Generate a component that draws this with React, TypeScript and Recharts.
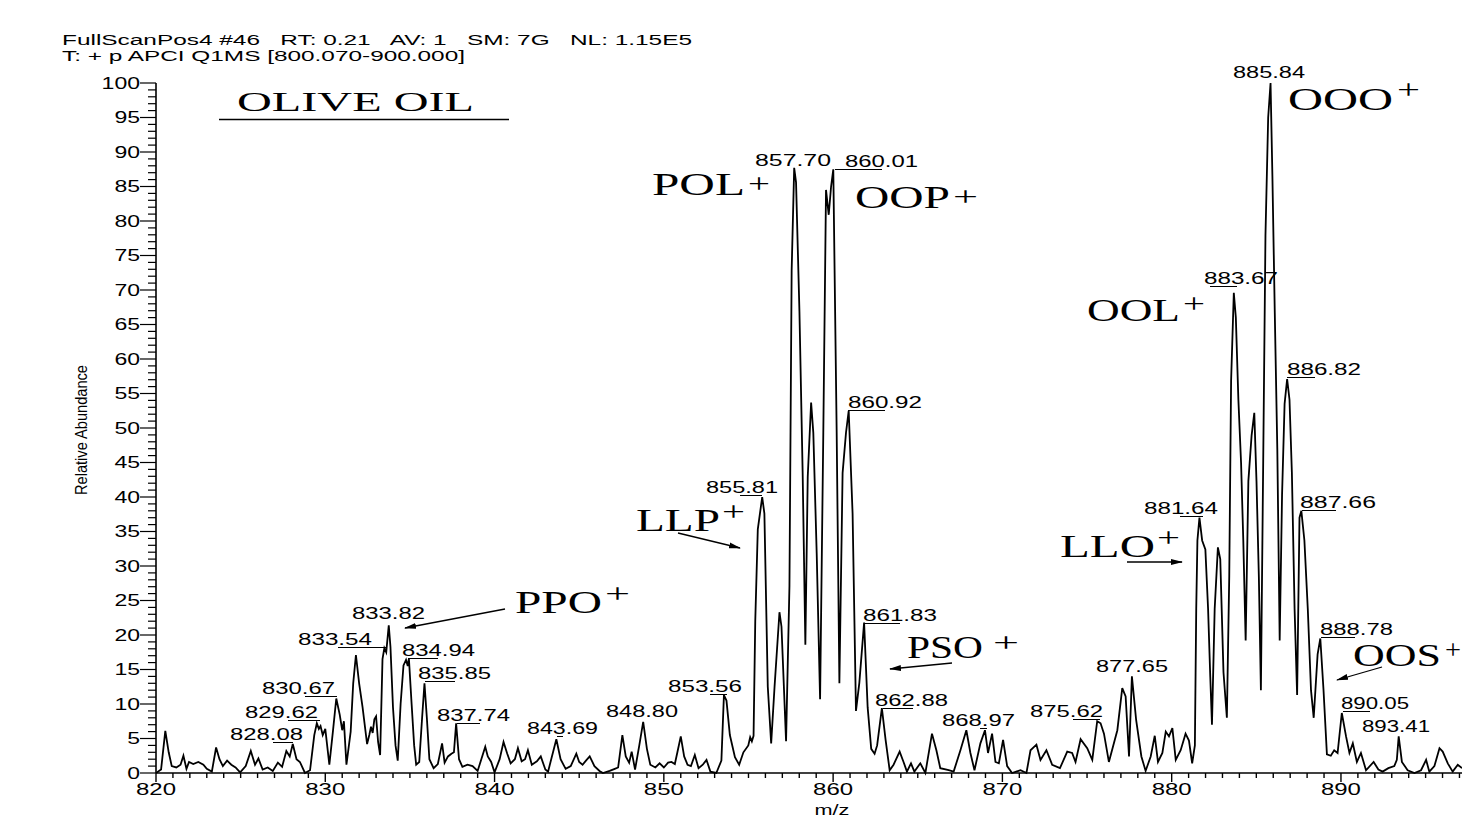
import { LineChart, Line, XAxis, YAxis } from 'recharts';

const W = 1462;
const H = 818;
const SANS = '"Liberation Sans", Arial, sans-serif';
const SERIF = '"Liberation Serif", "Times New Roman", serif';

// m/z positions
const massToCharge = [
  820.0, 820.3, 820.55, 820.75, 820.93, 821.2, 821.45, 821.62, 821.8, 821.95,
  822.2, 822.5, 822.8, 823.0, 823.3, 823.55, 823.75, 823.95, 824.2, 824.45,
  824.7, 824.97, 825.3, 825.6, 825.85, 826.05, 826.3, 826.6, 826.9, 827.2,
  827.45, 827.7, 827.9, 828.08, 828.3, 828.5, 828.8, 829.1, 829.35, 829.5,
  829.62, 829.72, 829.85, 830.0, 830.24, 830.45, 830.65, 830.85, 831.0, 831.1,
  831.25, 831.5, 831.65, 831.81, 832.0, 832.2, 832.47, 832.6, 832.7, 832.8,
  832.9, 833.0, 833.12, 833.24, 833.38, 833.49, 833.6, 833.75, 833.85, 834.0,
  834.15, 834.28, 834.45, 834.62, 834.77, 834.87, 834.94, 835.1, 835.25, 835.37,
  835.55, 835.72, 835.86, 836.0, 836.15, 836.4, 836.65, 836.9, 837.05, 837.25,
  837.45, 837.6, 837.73, 837.9, 838.1, 838.4, 838.7, 839.0, 839.45, 839.6,
  839.8, 840.0, 840.3, 840.53, 840.75, 840.95, 841.2, 841.38, 841.6, 841.8,
  841.97, 842.2, 842.5, 842.73, 843.0, 843.16, 843.4, 843.65, 843.9, 844.2,
  844.5, 844.83, 845.0, 845.2, 845.4, 845.62, 845.9, 846.2, 846.4, 846.8,
  847.1, 847.3, 847.55, 847.75, 847.95, 848.1, 848.3, 848.55, 848.78, 849.0,
  849.2, 849.5, 849.75, 850.0, 850.25, 850.45, 850.65, 850.8, 851.0, 851.2,
  851.4, 851.6, 851.83, 852.05, 852.3, 852.52, 852.75, 853.1, 853.4, 853.55,
  853.7, 853.9, 854.2, 854.45, 854.7, 854.99, 855.1, 855.2, 855.3, 855.4,
  855.55, 855.81, 855.94, 856.14, 856.34, 856.54, 856.83, 856.95, 857.22, 857.42,
  857.55, 857.7, 857.81, 858.01, 858.2, 858.36, 858.5, 858.7, 858.83, 859.03,
  859.23, 859.42, 859.58, 859.74, 859.88, 860.01, 860.21, 860.37, 860.56, 860.76,
  860.92, 861.15, 861.35, 861.55, 861.83, 862.04, 862.25, 862.45, 862.6, 862.88,
  863.1, 863.34, 863.57, 863.93, 864.16, 864.36, 864.6, 864.8, 865.15, 865.45,
  865.84, 866.1, 866.33, 866.83, 867.12, 867.52, 867.87, 868.11, 868.35, 868.7,
  868.97, 869.15, 869.39, 869.59, 869.79, 870.04, 870.28, 870.57, 871.07, 871.42,
  871.66, 872.01, 872.25, 872.6, 872.94, 873.4, 873.83, 874.12, 874.32, 874.62,
  875.01, 875.31, 875.6, 875.8, 876.0, 876.29, 876.79, 877.08, 877.28, 877.48,
  877.65, 877.9, 878.21, 878.46, 878.76, 879.0, 879.19, 879.45, 879.65, 879.84,
  880.04, 880.24, 880.53, 880.82, 881.02, 881.21, 881.37, 881.45, 881.52, 881.64,
  881.8, 881.99, 882.15, 882.28, 882.38, 882.54, 882.73, 882.87, 883.06, 883.26,
  883.4, 883.51, 883.67, 883.79, 883.94, 884.1, 884.23, 884.37, 884.53, 884.72,
  884.88, 885.01, 885.15, 885.27, 885.4, 885.54, 885.7, 885.84, 885.95, 886.09,
  886.24, 886.38, 886.52, 886.67, 886.82, 886.96, 887.1, 887.26, 887.41, 887.55,
  887.66, 887.84, 888.04, 888.23, 888.39, 888.62, 888.78, 888.97, 889.17, 889.4,
  889.6, 889.8, 890.05, 890.3, 890.5, 890.7, 890.94, 891.18, 891.48, 891.93,
  892.21, 892.46, 892.8, 893.15, 893.3, 893.41, 893.6, 893.94, 894.34, 894.73,
  895.03, 895.22, 895.52, 895.82, 896.01, 896.31, 896.6, 896.9, 897.15,
];

// relative abundance (%) at each m/z above
const relAbundance = [
  0, 0.5, 6.1, 3.0, 1.0, 0.8, 1.2, 2.5, 0.6, 1.6,
  1.3, 1.6, 1.2, 0.6, 0.2, 3.7, 2.0, 1.0, 1.8, 1.2,
  0.8, 0.1, 1.0, 3.2, 1.2, 2.1, 0.5, 0.8, 0.3, 1.5,
  0.9, 3.2, 2.4, 4.2, 2.0, 1.6, 0.0, 0.4, 5.5, 7.2,
  6.4, 6.8, 5.5, 6.4, 1.2, 6.0, 10.8, 8.5, 6.2, 7.5,
  1.2, 6.0, 13.0, 17.1, 13.0, 9.6, 4.2, 5.5, 6.7, 5.8,
  7.8, 8.2, 4.5, 2.6, 16.5, 18.1, 17.5, 21.4, 18.3, 9.5,
  4.0, 1.8, 10.0, 15.6, 16.4, 15.5, 16.6, 10.0, 4.0, 1.2,
  1.6, 8.0, 13.0, 8.0, 2.0, 0.7, 1.3, 4.3, 1.5, 2.4,
  2.8, 3.0, 7.2, 2.0, 0.9, 1.2, 1.0, 0.3, 3.8, 2.4,
  1.6, 0.1, 2.0, 4.5, 2.8, 1.4, 2.0, 3.6, 1.7, 2.0,
  3.3, 1.2, 1.7, 2.4, 0.5, 0.2, 2.5, 4.9, 2.0, 0.6,
  1.0, 2.8, 1.6, 1.2, 1.8, 2.4, 1.0, 0.3, 0.0, 0.3,
  0.6, 0.8, 5.5, 2.4, 1.5, 3.1, 0.5, 4.0, 7.4, 3.5,
  1.2, 0.8, 1.4, 0.8, 1.5, 1.6, 1.3, 3.0, 5.3, 2.4,
  1.2, 1.0, 2.6, 0.7, 1.2, 1.9, 0.2, 0.0, 1.8, 11.3,
  10.5, 5.5, 2.3, 1.2, 3.0, 4.0, 5.2, 4.6, 5.4, 22.0,
  35.3, 40.0, 37.6, 12.5, 4.3, 12.5, 23.3, 21.2, 4.6, 27.1,
  72.8, 87.7, 85.6, 66.9, 43.5, 18.6, 42.9, 53.7, 49.3, 31.8,
  10.7, 49.3, 84.5, 80.9, 85.0, 87.5, 49.3, 13.0, 43.5, 49.3,
  52.5, 37.6, 9.0, 13.1, 21.8, 9.5, 3.5, 2.8, 4.0, 9.4,
  4.8, 0.4, 1.2, 3.1, 1.6, 0.2, 1.4, 0.2, 1.4, 0.0,
  5.7, 3.3, 0.7, 0.4, 0.2, 3.3, 6.2, 2.9, 0.4, 4.3,
  6.2, 2.9, 5.7, 1.6, 1.4, 4.8, 1.0, 0.0, 0.4, 0.0,
  3.3, 4.1, 1.9, 3.3, 1.2, 0.7, 3.1, 2.9, 1.6, 4.9,
  3.6, 1.9, 7.5, 7.2, 5.7, 1.6, 6.2, 12.3, 11.1, 2.4,
  14.0, 7.7, 2.4, 0.3, 2.4, 5.4, 1.6, 2.9, 6.0, 5.3,
  6.5, 1.9, 3.3, 5.7, 4.7, 1.4, 4.0, 23.8, 33.7, 37.0,
  33.7, 32.4, 23.8, 13.9, 7.0, 23.8, 32.7, 31.0, 14.6, 8.0,
  28.4, 56.8, 69.6, 66.0, 54.1, 44.9, 33.7, 19.2, 42.3, 48.9,
  52.2, 42.3, 28.4, 12.0, 43.6, 77.9, 95.0, 100, 86.5, 66.7,
  46.9, 19.2, 40.3, 53.5, 57.1, 54.1, 43.6, 23.8, 11.3, 37.0,
  38.0, 33.7, 23.8, 12.0, 8.0, 17.2, 19.5, 12.0, 2.7, 2.5,
  3.3, 2.9, 8.7, 5.3, 2.9, 4.3, 1.6, 2.9, 0.4, 1.6,
  0.5, 0.2, 0.7, 1.0, 1.9, 5.3, 1.6, 0.4, 0.0, 0.4,
  1.9, 0.2, 1.0, 3.6, 3.1, 1.4, 0.2, 1.2, 0.7,
];

const spectrum = massToCharge.map((mz, i) => ({ mz, abundance: relAbundance[i] }));

const xMajor = [820, 830, 840, 850, 860, 870, 880, 890];
const xTicks = Array.from({ length: 78 }, (_, i) => 820 + i);
const yTicks = Array.from({ length: 101 }, (_, i) => i);

// peak annotations (text), placement below
const peakTags = [
  '857.70', '860.01', '860.92', '855.81', '853.56', '848.80', '843.69',
  '837.74', '835.85', '834.94', '833.82', '833.54', '830.67', '829.62',
  '828.08', '861.83', '862.88', '868.97', '875.62', '877.65', '881.64',
  '883.67', '885.84', '886.82', '887.66', '888.78', '890.05', '893.41',
];
const peakTagLayout: [number, number, number, number | null, number | null][] = [
  [755, 160, 76, null, null],
  [845, 161, 73, 835, 882],
  [848, 402, 74, 848, 885],
  [706, 487, 72, 740, 762],
  [668, 686, 74, 710, 727],
  [606, 711, 72, null, null],
  [527, 728, 71, 557, 563],
  [437, 715, 73, 457, 480],
  [418, 673, 73, 425, 455],
  [402, 650, 73, 408, 438],
  [352, 613, 73, null, null],
  [298, 639, 74, 338, 387],
  [262, 688, 73, 305, 337],
  [245, 712, 73, 288, 320],
  [230, 734, 73, 273, 293],
  [863, 615, 74, 865, 900],
  [875, 700, 73, 883, 913],
  [942, 720, 73, 980, 987],
  [1030, 711, 73, 1073, 1100],
  [1096, 666, 72, null, null],
  [1144, 508, 74, 1180, 1203],
  [1204, 278, 74, 1210, 1237],
  [1233, 72, 72, null, null],
  [1287, 369, 74, 1287, 1315],
  [1300, 502, 76, 1302, 1336],
  [1320, 629, 73, 1321, 1355],
  [1341, 703, 68, 1343, 1370],
  [1362, 726, 68, null, null],
];

const ionNames = ['POL', 'OOP', 'OOO', 'OOL', 'LLP', 'LLO', 'PPO', 'PSO', 'OOS'];
// [x, baseline, width, plusX, plusCenterY, plusWidth]
const ionLayout = [
  [652, 195, 93, 748, 184, 22],
  [855, 208, 95, 953, 197, 25],
  [1288, 110, 105, 1397, 90, 23],
  [1087, 321, 93, 1183, 304, 22],
  [636, 531, 84, 722, 512, 23],
  [1060, 557, 95, 1157, 538, 23],
  [515, 613, 87, 605, 594, 25],
  [907, 658, 76, 993, 643, 26],
  [1353, 666, 88, 1445, 650, 16],
];

const arrows = [
  [678, 533, 740, 548],
  [505, 609, 405, 628],
  [952, 663, 890, 669],
  [1127, 562, 1182, 562],
  [1382, 667, 1337, 680],
];

function XTick(props: any) {
  const { x, y, payload } = props;
  const major = xMajor.includes(payload.value);
  return (
    <g>
      <line x1={x} y1={y} x2={x} y2={y + (major ? 9 : 5)} stroke='#000' strokeWidth={1.4} />
      {major && (
        <text
          x={x}
          y={y + 22}
          textAnchor='middle'
          fontFamily={SANS}
          fontSize={16}
          textLength={40}
          lengthAdjust='spacingAndGlyphs'
        >
          {payload.value}
        </text>
      )}
    </g>
  );
}

function YTick(props: any) {
  const { x, y, payload } = props;
  const major = payload.value % 5 === 0;
  const label = String(payload.value);
  return (
    <g>
      <line x1={x - (major ? 16 : 8)} y1={y} x2={x} y2={y} stroke='#000' strokeWidth={1.2} />
      {major && (
        <text
          x={x - 16}
          y={y + 5.7}
          textAnchor='end'
          fontFamily={SANS}
          fontSize={16}
          textLength={label.length * 12.8}
          lengthAdjust='spacingAndGlyphs'
        >
          {label}
        </text>
      )}
    </g>
  );
}

function Stretch({ x, y, w, size, family, anchor, children, transform }: any) {
  return (
    <text
      x={x}
      y={y}
      fontFamily={family}
      fontSize={size}
      textAnchor={anchor || 'start'}
      textLength={w}
      lengthAdjust='spacingAndGlyphs'
      transform={transform}
      style={{ whiteSpace: 'pre' }}
    >
      {children}
    </text>
  );
}

export default function App() {
  return (
    <div style={{ position: 'absolute', left: 0, top: 0, width: W, height: H, background: '#fff' }}>
      <LineChart width={W} height={H} data={spectrum} margin={{ top: 83, right: 0, bottom: 0, left: 0 }}>
        <XAxis
          dataKey='mz'
          type='number'
          domain={[820, 897.15]}
          allowDataOverflow
          ticks={xTicks}
          interval={0}
          tick={(p: any) => <XTick {...p} />}
          tickSize={0}
          tickMargin={0}
          tickLine={false}
          axisLine={{ stroke: '#000', strokeWidth: 1.6 }}
          height={45}
        />
        <YAxis
          type='number'
          domain={[0, 100]}
          ticks={yTicks}
          interval={0}
          tick={(p: any) => <YTick {...p} />}
          tickSize={0}
          tickMargin={0}
          tickLine={false}
          axisLine={{ stroke: '#000', strokeWidth: 1.6 }}
          width={156}
        />
        <Line
          type='linear'
          dataKey='abundance'
          stroke='#000'
          strokeWidth={1.8}
          dot={false}
          isAnimationActive={false}
        />
      </LineChart>

      <svg width={W} height={H} style={{ position: 'absolute', left: 0, top: 0, pointerEvents: 'none' }}>
        <defs>
          <marker id='head' markerWidth={12} markerHeight={8} refX={11} refY={4} orient='auto' markerUnits='userSpaceOnUse'>
            <path d='M0,1 L12,4 L0,7 z' fill='#000' />
          </marker>
        </defs>

        <Stretch x={62} y={45} w={630} size={14} family={SANS}>
          {'FullScanPos4 #46   RT: 0.21   AV: 1   SM: 7G   NL: 1.15E5'}
        </Stretch>
        <Stretch x={62} y={60.5} w={403} size={14} family={SANS}>
          {'T: + p APCI Q1MS [800.070-900.000]'}
        </Stretch>

        <Stretch x={237} y={111} w={237} size={28} family={SERIF}>OLIVE OIL</Stretch>
        <line x1={219} y1={119.5} x2={509} y2={119.5} stroke='#000' strokeWidth={1.5} />

        {ionNames.map((name, i) => {
          const [x, y, w, px, pcy, pw] = ionLayout[i];
          return (
            <g key={name}>
              <Stretch x={x} y={y} w={w} size={31} family={SERIF}>{name}</Stretch>
              <Stretch x={px} y={pcy + 8.7} w={pw} size={28} family={SERIF}>+</Stretch>
            </g>
          );
        })}

        {arrows.map(([x1, y1, x2, y2], i) => (
          <line key={i} x1={x1} y1={y1} x2={x2} y2={y2} stroke='#000' strokeWidth={1.3} markerEnd='url(#head)' />
        ))}

        {peakTags.map((tag, i) => {
          const [x, cy, w, u1, u2] = peakTagLayout[i];
          return (
            <g key={tag}>
              <Stretch x={x} y={cy + 5.7} w={w} size={16} family={SANS}>{tag}</Stretch>
              {u1 !== null && u2 !== null && (
                <line x1={u1} y1={cy + 8.5} x2={u2} y2={cy + 8.5} stroke='#000' strokeWidth={1} />
              )}
            </g>
          );
        })}

        <Stretch x={0} y={0} w={130} size={16} family={SANS} anchor='middle' transform='translate(86.5,430) rotate(-90)'>
          Relative Abundance
        </Stretch>
        <Stretch x={832} y={815} w={35} size={14} family={SANS} anchor='middle'>m/z</Stretch>
      </svg>
    </div>
  );
}
